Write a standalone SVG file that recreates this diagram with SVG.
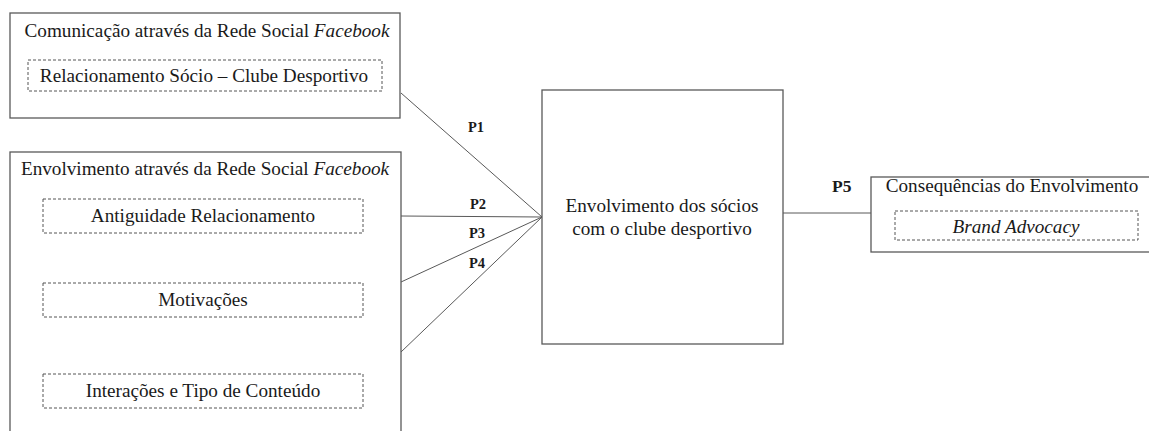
<svg xmlns="http://www.w3.org/2000/svg" width="1149" height="431" viewBox="0 0 1149 431">
<style>
.box{fill:#fff;stroke:#595959;stroke-width:1.3}
.dash{fill:none;stroke:#555;stroke-width:1;stroke-dasharray:3,2}
.t{font-family:"Liberation Serif","Times New Roman",serif;font-size:19.2px;fill:#1a1a1a;text-anchor:middle}
.p{font-family:"Liberation Serif","Times New Roman",serif;font-size:14.5px;font-weight:bold;fill:#1a1a1a}
.ln{stroke:#595959;stroke-width:1;fill:none}
</style>
<rect width="1149" height="431" fill="#fff"/>
<g id="connectors">
<line class="ln" x1="401" y1="93" x2="542" y2="217"/>
<line class="ln" x1="401" y1="216" x2="542" y2="217"/>
<line class="ln" x1="401" y1="282" x2="542" y2="217"/>
<line class="ln" x1="401" y1="352" x2="542" y2="217"/>
<line class="ln" x1="783" y1="213" x2="871" y2="213"/>
<text class="p" x="468" y="132">P1</text>
<text class="p" x="470" y="209">P2</text>
<text class="p" x="469" y="238">P3</text>
<text class="p" x="469" y="268">P4</text>
<text class="p" x="832" y="192" style="font-size:17.5px">P5</text>
</g>
<g id="comunicacao">
<rect class="box" x="10" y="13" width="390" height="105"/>
<text class="t" x="207" y="37">Comunicação através da Rede Social <tspan font-style="italic">Facebook</tspan></text>
<rect class="dash" x="28" y="60" width="354" height="31"/>
<text class="t" x="204" y="82">Relacionamento Sócio – Clube Desportivo</text>
</g>
<g id="envolvimento-facebook">
<rect class="box" x="10" y="152" width="391" height="300"/>
<text class="t" x="205" y="175">Envolvimento através da Rede Social <tspan font-style="italic">Facebook</tspan></text>
<rect class="dash" x="43" y="199" width="320" height="34"/>
<text class="t" x="203" y="222">Antiguidade Relacionamento</text>
<rect class="dash" x="43" y="283" width="320" height="34"/>
<text class="t" x="203" y="306">Motivações</text>
<rect class="dash" x="43" y="374" width="320" height="34"/>
<text class="t" x="203" y="397">Interações e Tipo de Conteúdo</text>
</g>
<g id="envolvimento-socios">
<rect class="box" x="542" y="90" width="241" height="254"/>
<text class="t" x="662" y="212">Envolvimento dos sócios</text>
<text class="t" x="662" y="235">com o clube desportivo</text>
</g>
<g id="consequencias">
<rect class="box" x="871" y="177" width="290" height="75"/>
<text class="t" x="1012" y="192">Consequências do Envolvimento</text>
<rect class="dash" x="895" y="211" width="243" height="29"/>
<text class="t" x="1016" y="233" font-style="italic">Brand Advocacy</text>
</g>
</svg>
